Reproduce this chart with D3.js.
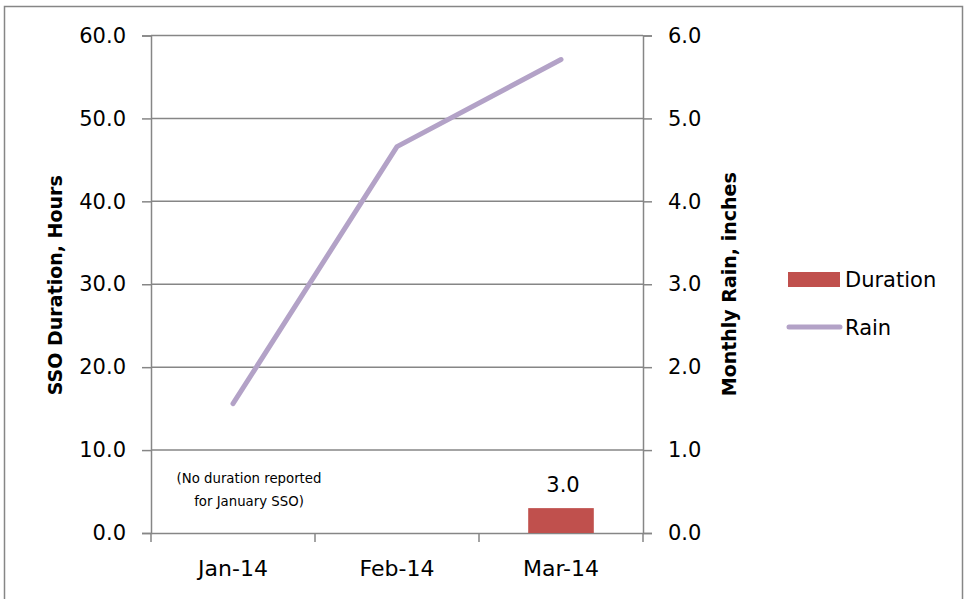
<!DOCTYPE html>
<html>
<head>
<meta charset="utf-8">
<script src="https://cdn.jsdelivr.net/npm/d3@7"></script>
<style>
  html, body { margin: 0; padding: 0; background: #ffffff; }
  svg { display: block; font-family: "DejaVu Sans", sans-serif; }
</style>
</head>
<body>
<svg id="chart" width="969" height="599"></svg>
<script>
// Monthly SSO duration (hours, left axis) and rainfall (inches, right axis)
const months = ["Jan-14", "Feb-14", "Mar-14"];
const durationHours = [null, null, 3.0];
const rainInches = [1.56, 4.66, 5.71];
const leftTicks = [0, 10, 20, 30, 40, 50, 60];
const rightTicks = [0, 1, 2, 3, 4, 5, 6];

const svg = d3.select("#chart");
const gray = "#868686";
const barColor = "#c0504d";
const lineColor = "#b3a2c7";
const font = "'DejaVu Sans', sans-serif";

const plot = { left: 151, right: 643, top: 35.5, bottom: 533 };

// chart frame
svg.append("rect")
  .attr("x", 4.5).attr("y", 6.5)
  .attr("width", 958).attr("height", 600)
  .attr("fill", "#fff").attr("stroke", gray).attr("stroke-width", 1.5);

const x = d3.scaleBand().domain(months).range([plot.left, plot.right]).paddingInner(0).paddingOuter(0);
const yL = d3.scaleLinear().domain([0, 60]).range([plot.bottom, plot.top]);
const yR = d3.scaleLinear().domain([0, 6]).range([plot.bottom, plot.top]);

// horizontal gridlines
svg.append("g").selectAll("line").data(leftTicks.filter(d => d > 0)).join("line")
  .attr("x1", plot.left).attr("x2", plot.right)
  .attr("y1", d => yL(d)).attr("y2", d => yL(d))
  .attr("stroke", gray).attr("stroke-width", 1.5);

// left axis
const axL = svg.append("g").attr("transform", `translate(${plot.left},0)`)
  .call(d3.axisLeft(yL).tickValues(leftTicks).tickFormat(d3.format(".1f")).tickSize(9).tickPadding(16));
// right axis
const axR = svg.append("g").attr("transform", `translate(${plot.right},0)`)
  .call(d3.axisRight(yR).tickValues(rightTicks).tickFormat(d3.format(".1f")).tickSize(9).tickPadding(16));
// bottom axis with ticks between categories
const boundaries = months.map(m => x(m)).concat([plot.right]);
const axB = svg.append("g").attr("transform", `translate(0,${plot.bottom})`)
  .call(d3.axisBottom(x).tickSize(0).tickPadding(27));
axB.append("g").selectAll("line").data(boundaries).join("line")
  .attr("x1", d => d).attr("x2", d => d).attr("y1", 0).attr("y2", 9)
  .attr("stroke", gray).attr("stroke-width", 1.5);

[axL, axR, axB].forEach(ax => {
  ax.select(".domain").attr("stroke", gray).attr("stroke-width", 1.5);
  ax.selectAll(".tick line").attr("stroke", gray).attr("stroke-width", 1.5);
  ax.selectAll("text").attr("fill", "#000").style("font-size", "21px")
    .style("font-family", font);
});
axB.selectAll(".tick text").attr("dy", "0.71em").style("font-size", "22px");

// axis titles
svg.append("text")
  .attr("transform", `translate(62,${(plot.top + plot.bottom) / 2 + 1}) rotate(-90)`)
  .attr("text-anchor", "middle")
  .style("font-size", "19px").style("font-weight", "bold")
  .text("SSO Duration, Hours");
svg.append("text")
  .attr("transform", `translate(736,${(plot.top + plot.bottom) / 2}) rotate(-90)`)
  .attr("text-anchor", "middle")
  .style("font-size", "19px").style("font-weight", "bold")
  .text("Monthly Rain, inches");

// duration bars
const barW = x.bandwidth() * 0.4;
const barData = months.map((m, i) => ({ m, v: durationHours[i] })).filter(d => d.v != null);
svg.append("g").selectAll("rect").data(barData).join("rect")
  .attr("x", d => x(d.m) + (x.bandwidth() - barW) / 2)
  .attr("y", d => yL(d.v))
  .attr("width", barW)
  .attr("height", d => yL(0) - yL(d.v))
  .attr("fill", barColor);
svg.append("g").selectAll("text").data(barData).join("text")
  .attr("x", d => x(d.m) + x.bandwidth() / 2 + 2)
  .attr("y", d => yL(d.v) - 16)
  .attr("text-anchor", "middle")
  .style("font-size", "21px")
  .text(d => d3.format(".1f")(d.v));

// rain line
const line = d3.line()
  .x((d, i) => x(months[i]) + x.bandwidth() / 2)
  .y(d => yR(d));
svg.append("path").datum(rainInches)
  .attr("d", line)
  .attr("fill", "none").attr("stroke", lineColor)
  .attr("stroke-width", 5).attr("stroke-linecap", "round").attr("stroke-linejoin", "round");

// note for January
const note = svg.append("text").attr("text-anchor", "middle").style("font-size", "13.3px");
note.append("tspan").attr("x", 249).attr("y", 483).text("(No duration reported");
note.append("tspan").attr("x", 249).attr("y", 506).text("for January SSO)");

// legend
const lg = svg.append("g");
lg.append("rect").attr("x", 788).attr("y", 272).attr("width", 52).attr("height", 15).attr("fill", barColor);
lg.append("text").attr("x", 845).attr("y", 287).style("font-size", "21px").text("Duration");
lg.append("line").attr("x1", 789).attr("x2", 840).attr("y1", 327).attr("y2", 327)
  .attr("stroke", lineColor).attr("stroke-width", 5).attr("stroke-linecap", "round");
lg.append("text").attr("x", 845).attr("y", 335).style("font-size", "21px").text("Rain");
</script>
</body>
</html>
